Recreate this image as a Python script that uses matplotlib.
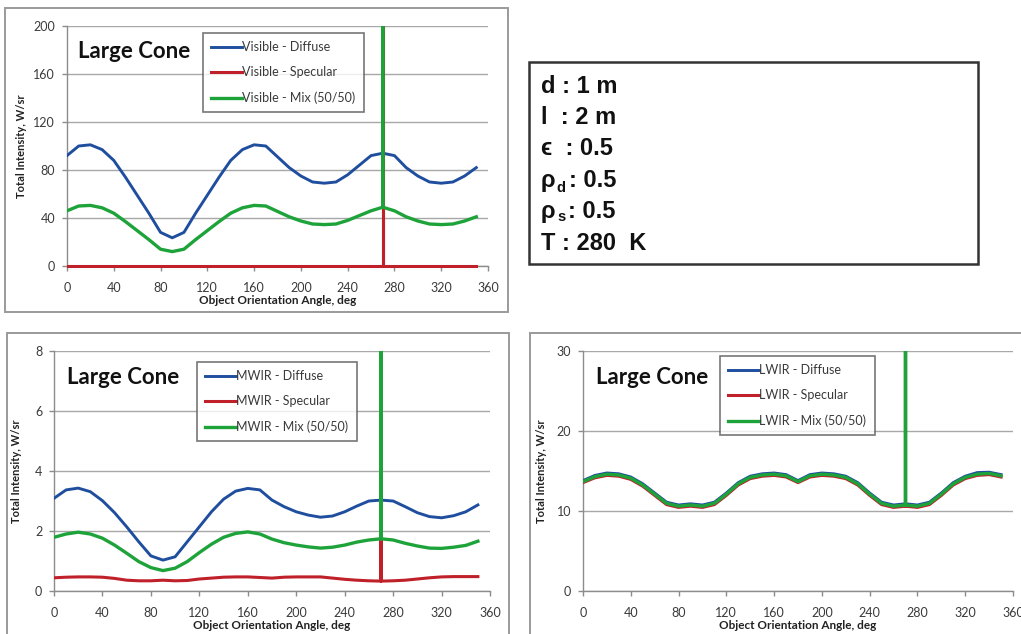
import matplotlib
matplotlib.use("Agg")
import matplotlib.pyplot as plt
from matplotlib.patches import Rectangle
from matplotlib.transforms import Bbox, TransformedBbox

# ---------------- data ----------------
angles = [0, 10, 20, 30, 40, 50, 60, 70, 80, 90, 100, 110, 120, 130, 140, 150, 160, 170,
          180, 190, 200, 210, 220, 230, 240, 250, 260, 270, 270, 270, 280, 290, 300, 310,
          320, 330, 340, 350]

vis_diffuse = [92, 100, 101, 97, 88, 74, 59, 44, 28, 23.5, 28, 44, 59, 74, 88, 97, 101, 100,
               91, 82, 75, 70, 69, 70, 76, 84, 92, 94, 94, 94, 92, 82, 75, 70,
               69, 70, 75, 82]
vis_specular = [0, 0, 0, 0, 0, 0, 0, 0, 0, 0, 0, 0, 0, 0, 0, 0, 0, 0,
                0, 0, 0, 0, 0, 0, 0, 0, 0, 0, 5000, 0, 0, 0, 0, 0,
                0, 0, 0, 0]
vis_mix = [46, 50, 50.5, 48.5, 44, 37, 29.5, 22, 14, 12, 14, 22, 29.5, 37, 44, 48.5, 50.5, 50,
           45.5, 41, 37.5, 35, 34.5, 35, 38, 42, 46, 49, 2549, 49, 46, 41, 37.5, 35,
           34.5, 35, 37.5, 41]

mwir_diffuse = [3.09, 3.37, 3.43, 3.31, 3.01, 2.61, 2.14, 1.64, 1.17, 1.03, 1.14, 1.64, 2.14,
                2.64, 3.06, 3.33, 3.42, 3.37, 3.03, 2.81, 2.64, 2.53, 2.46, 2.50, 2.64, 2.83,
                3.00, 3.03, 3.03, 3.03, 3.00, 2.81, 2.61, 2.48, 2.44, 2.51, 2.64, 2.87]
mwir_specular = [0.44, 0.46, 0.47, 0.47, 0.46, 0.42, 0.36, 0.34, 0.34, 0.36, 0.34, 0.35, 0.40,
                 0.43, 0.46, 0.47, 0.47, 0.45, 0.43, 0.46, 0.47, 0.47, 0.47, 0.43, 0.39, 0.36,
                 0.34, 0.33, 300, 0.33, 0.34, 0.36, 0.40, 0.44, 0.47, 0.48, 0.48, 0.48]
mwir_mix = [1.79, 1.90, 1.96, 1.90, 1.76, 1.53, 1.26, 0.98, 0.78, 0.68, 0.76, 0.98, 1.28,
            1.56, 1.79, 1.92, 1.97, 1.90, 1.73, 1.61, 1.53, 1.47, 1.43, 1.46, 1.53, 1.63,
            1.70, 1.74, 150, 1.74, 1.70, 1.59, 1.50, 1.43, 1.42, 1.46, 1.52, 1.66]

lwir_diffuse = [13.8, 14.45, 14.75, 14.65, 14.25, 13.4, 12.25, 11.1, 10.75, 10.9, 10.75, 11.1,
                12.25, 13.55, 14.35, 14.65, 14.75, 14.55, 13.8, 14.55, 14.75, 14.65, 14.35,
                13.55, 12.25, 11.1, 10.75, 10.9, 10.9, 10.9, 10.75, 11.1, 12.25, 13.55, 14.35,
                14.8, 14.85, 14.55]
lwir_specular = [13.55, 14.15, 14.45, 14.35, 13.95, 13.1, 11.95, 10.8, 10.45, 10.6, 10.45, 10.8,
                 11.95, 13.25, 14.05, 14.35, 14.45, 14.25, 13.55, 14.25, 14.45, 14.35, 14.05,
                 13.25, 11.95, 10.8, 10.45, 10.6, 2000, 10.6, 10.45, 10.8, 11.95, 13.25, 14.05,
                 14.45, 14.55, 14.25]
lwir_mix = [13.67, 14.3, 14.6, 14.5, 14.1, 13.25, 12.1, 10.96, 10.6, 10.75, 10.6, 10.96,
            12.1, 13.4, 14.2, 14.5, 14.6, 14.4, 13.67, 14.4, 14.6, 14.5, 14.2,
            13.4, 12.1, 10.96, 10.6, 10.75, 1000, 10.75, 10.6, 10.96, 12.1, 13.4, 14.2,
            14.6, 14.7, 14.4]

x_ticks = [0, 40, 80, 120, 160, 200, 240, 280, 320, 360]
vis_labels = ["Visible - Diffuse", "Visible - Specular", "Visible - Mix (50/50)"]
mwir_labels = ["MWIR - Diffuse", "MWIR - Specular", "MWIR - Mix (50/50)"]
lwir_labels = ["LWIR - Diffuse", "LWIR - Specular", "LWIR - Mix (50/50)"]
panel_title = "Large Cone"
x_label = "Object Orientation Angle, deg"
y_label = "Total Intensity, W/sr"

# ---------------- style ----------------
BLUE = "#1f4e9e"
RED = "#c0202a"
GREEN = "#1ea33b"
GRID = "#a8a8a8"
AXIS = "#8c8c8c"
TXT = "#3a3a3a"

W, H = 1021, 634
fig = plt.figure(figsize=(W / 100, H / 100), dpi=100)
plt.rcParams['font.family'] = ['Lato', 'DejaVu Sans']


def fx(px):
    return px / W


def fy(py):
    return 1 - py / H


def rect(l, t, r, b):
    return [l / W, 1 - b / H, (r - l) / W, (b - t) / H]


def frame(l, t, r, b, color, lw):
    fig.add_artist(Rectangle((fx(l), fy(b)), (r - l) / W, (b - t) / H,
                             transform=fig.transFigure, fill=False,
                             edgecolor=color, lw=lw, zorder=0))


# chart-area frames
frame(5, 8, 508, 312, "#9a9a9a", 1.4)
frame(7, 333, 509, 645, "#9a9a9a", 1.4)
frame(530, 333, 1035, 645, "#9a9a9a", 1.4)


def panel(rect_px, diffuse, specular, mix, labels, ymax, ystep, legend_lt, title_xy,
          ylabel_pad):
    ax = fig.add_axes(rect(*rect_px))
    clipbox = TransformedBbox(Bbox([[0, -0.02], [1, 1]]), ax.transAxes)
    for vals, col, lab, lw in [(diffuse, BLUE, labels[0], 2.1),
                               (specular, RED, labels[1], 2.2),
                               (mix, GREEN, labels[2], 2.4)]:
        ln, = ax.plot(angles, vals, color=col, lw=lw, label=lab, zorder=3,
                      solid_joinstyle='round')
        ln.set_clip_box(clipbox)
    ax.set_xlim(0, 360)
    ax.set_ylim(0, ymax)
    ax.set_xticks(x_ticks)
    ax.set_yticks(list(range(0, ymax + 1, ystep)))
    ax.grid(axis='y', color=GRID, lw=1.0)
    ax.set_axisbelow(True)
    for s in ['top', 'right']:
        ax.spines[s].set_visible(False)
    for s in ['left', 'bottom']:
        ax.spines[s].set_color(AXIS)
        ax.spines[s].set_linewidth(1.0)
    ax.tick_params(axis='x', length=3.5, width=1, color=AXIS, pad=8,
                   labelsize=9, labelcolor=TXT, direction='out')
    ax.tick_params(axis='y', length=3.5, width=1, color=AXIS, pad=5,
                   labelsize=9, labelcolor=TXT, direction='out')
    ax.set_xlabel(x_label, fontsize=8.5, fontweight='bold', color='#222222', labelpad=1)
    ax.set_ylabel(y_label, fontsize=8, fontweight='bold', color='#222222',
                  labelpad=ylabel_pad)
    ax.patch.set_alpha(0)
    leg = ax.legend(loc='upper left', bbox_to_anchor=(fx(legend_lt[0]), fy(legend_lt[1])),
                    bbox_transform=fig.transFigure, frameon=True, fancybox=False,
                    edgecolor='#555555', fontsize=9, handlelength=2.5,
                    handletextpad=0.0, labelspacing=1.05, borderpad=0.65,
                    borderaxespad=0)
    leg.get_frame().set_linewidth(1.2)
    for t in leg.get_texts():
        t.set_color(TXT)
    fig.text(fx(title_xy[0]), fy(title_xy[1]), panel_title, fontsize=16,
             fontweight='bold', color='#111111', ha='left', va='center')
    return ax


panel((67, 26, 488, 266), vis_diffuse, vis_specular, vis_mix, vis_labels, 200, 40,
      (203, 33), (78, 52), 5)
panel((54, 351, 490, 591), mwir_diffuse, mwir_specular, mwir_mix, mwir_labels, 8, 2,
      (197, 362), (67, 377), 9)
panel((583, 351, 1013, 591), lwir_diffuse, lwir_specular, lwir_mix, lwir_labels, 30, 10,
      (720, 356), (596, 377), 7)

# parameter text box
frame(529, 62, 978, 264, "#333333", 1.8)
FS = 17
fam = ['Liberation Sans', 'DejaVu Sans']
txt_kw = dict(fontsize=FS, fontweight='bold', family=fam, color='#111111',
              ha='left', va='baseline')
fig.text(fx(541), fy(93), "d : 1 m", **txt_kw)
fig.text(fx(541), fy(124), "l  : 2 m", **txt_kw)
fig.text(fx(541), fy(155), "\u03f5  : 0.5", **txt_kw)
fig.text(fx(541), fy(187), "\u03c1", **txt_kw)
fig.text(fx(556), fy(192), "d", fontsize=10.5, fontweight='bold', family=fam,
         color='#111111', ha='left', va='baseline')
fig.text(fx(569), fy(187), ": 0.5", **txt_kw)
fig.text(fx(541), fy(218), "\u03c1", **txt_kw)
fig.text(fx(557), fy(221), "s", fontsize=10.5, fontweight='bold', family=fam,
         color='#111111', ha='left', va='baseline')
fig.text(fx(568), fy(218), ": 0.5", **txt_kw)
fig.text(fx(541), fy(250), "T : 280  K", **txt_kw)

fig.savefig("out.png", dpi=100)
